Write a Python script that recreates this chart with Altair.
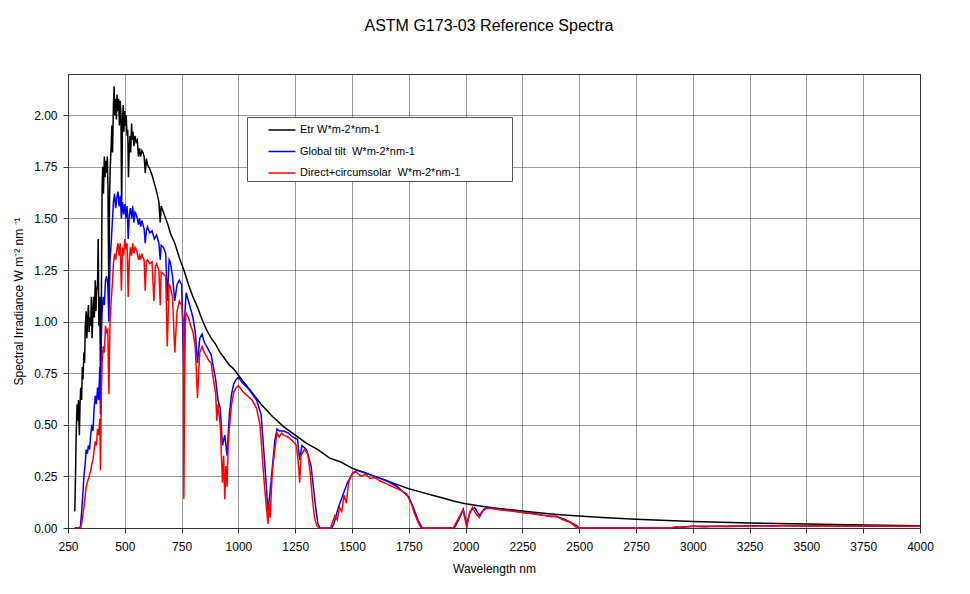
import altair as alt
import pandas as pd

# ---- data ----
etr_nm = [280, 283, 286, 290, 293, 296, 300, 303, 306, 310, 313, 316, 320, 323, 326, 330, 333, 336,
          340, 343, 346, 350, 353, 356, 360, 363, 366, 370, 373, 376, 380, 383, 386, 390, 393, 396,
          400, 403, 406, 410, 413, 416, 420, 423, 426, 430, 433, 436, 440, 443, 446, 450, 453, 456,
          460, 463, 466, 470, 473, 476, 480, 483, 486, 490, 493, 496, 500, 503, 506, 510, 513, 516,
          520, 523, 526, 530, 533, 536, 540, 545, 550, 555, 560, 565, 570, 575, 580, 585, 590, 595,
          600, 610, 620, 630, 640, 650, 656, 660, 670, 680, 690, 700, 720, 740, 760, 780, 800, 820,
          840, 860, 880, 900, 920, 940, 960, 980, 1000, 1050, 1100, 1150, 1200, 1250, 1300,
          1350, 1400, 1450, 1500, 1550, 1600, 1650, 1700, 1750, 1800, 1850, 1900, 1950, 2000, 2100,
          2200, 2300, 2400, 2500, 2600, 2750, 3000, 3250, 3500, 3750, 4000]
etr_val = [0.08, 0.25, 0.45, 0.60, 0.52, 0.62, 0.45, 0.60, 0.68, 0.62, 0.78, 0.72, 0.85, 0.80, 0.98,
           1.05, 0.92, 1.00, 1.08, 0.95, 1.02, 0.98, 1.12, 0.92, 1.05, 1.12, 1.02, 1.20, 1.05, 1.15,
           1.18, 1.40, 0.98, 1.12, 0.70, 0.95, 1.65, 1.75, 1.62, 1.80, 1.70, 1.78, 1.72, 1.80, 1.65,
           1.10, 1.60, 1.75, 1.85, 1.95, 1.82, 2.05, 2.14, 2.00, 2.08, 1.98, 2.10, 2.02, 2.08, 1.95,
           2.07, 2.00, 1.55, 1.98, 2.05, 1.92, 2.02, 1.95, 2.00, 1.90, 1.93, 1.70, 1.85, 1.90, 1.82,
           1.96, 1.88, 1.92, 1.85, 1.90, 1.87, 1.88, 1.80, 1.84, 1.80, 1.83, 1.82, 1.80, 1.72, 1.79,
           1.76, 1.74, 1.71, 1.67, 1.63, 1.58, 1.48, 1.56, 1.53, 1.50, 1.47, 1.43, 1.38, 1.31, 1.25,
           1.18, 1.12, 1.07, 1.01, 0.96, 0.92, 0.89, 0.85, 0.82, 0.79, 0.77, 0.74, 0.67, 0.60,
           0.54, 0.49, 0.45, 0.41, 0.38, 0.34, 0.32, 0.29, 0.27, 0.25, 0.23, 0.21, 0.19, 0.175, 0.16,
           0.145, 0.13, 0.118, 0.10, 0.088, 0.076, 0.066, 0.058, 0.051, 0.043, 0.032, 0.024, 0.019,
           0.015, 0.011]

glob_nm = [280, 300, 305, 310, 315, 320, 325, 330, 335, 340, 345, 350, 355, 360, 365, 370, 375, 380,
           385, 390, 393, 396, 400, 405, 410, 415, 420, 425, 430, 435, 440, 445, 450, 455, 460, 465,
           470, 475, 480, 485, 490, 495, 500, 505, 510, 515, 520, 525, 530, 535, 540, 545, 550, 555,
           560, 565, 570, 575, 580, 585, 590, 595, 600, 610, 620, 630, 640, 650, 656, 660, 670, 680,
           687, 695, 700, 710, 720, 730, 740, 750, 760, 765, 770, 780, 790, 800, 810, 820, 830, 840,
           850, 860, 870, 880, 890, 900, 910, 920, 930, 940, 950, 960, 970, 980, 990, 1000, 1020,
           1040, 1060, 1080, 1100, 1110, 1120, 1130, 1140, 1150, 1160, 1170, 1180, 1200, 1220, 1240,
           1260, 1270, 1280, 1300, 1320, 1340, 1350, 1360, 1410, 1420, 1440, 1460, 1480, 1500, 1520,
           1550, 1600, 1650, 1700, 1720, 1750, 1770, 1790, 1810, 1950, 1970, 1990, 2005, 2020, 2040,
           2060, 2080, 2100, 2150, 2200, 2250, 2300, 2350, 2400, 2430, 2460, 2490, 2500, 2900, 2950,
           3000, 3100, 3200, 3300, 3400, 3500, 3600, 3700, 3800, 3900, 4000]
glob_val = [0.0, 0.0, 0.01, 0.08, 0.16, 0.25, 0.30, 0.38, 0.36, 0.40, 0.38, 0.45, 0.50, 0.47, 0.58,
            0.64, 0.60, 0.68, 0.62, 0.78, 0.55, 0.88, 1.05, 1.12, 1.08, 1.20, 1.22, 1.18, 1.00, 1.30,
            1.38, 1.48, 1.58, 1.62, 1.55, 1.60, 1.63, 1.56, 1.61, 1.50, 1.58, 1.52, 1.57, 1.50, 1.56,
            1.40, 1.52, 1.55, 1.50, 1.56, 1.48, 1.53, 1.52, 1.50, 1.47, 1.50, 1.46, 1.49, 1.47, 1.45,
            1.38, 1.44, 1.46, 1.43, 1.44, 1.40, 1.42, 1.38, 1.30, 1.37, 1.36, 1.33, 1.10, 1.30, 1.29,
            1.22, 1.10, 1.18, 1.20, 1.18, 0.75, 1.05, 1.14, 1.10, 1.06, 1.02, 0.95, 0.80, 0.92, 0.94,
            0.90, 0.88, 0.86, 0.84, 0.78, 0.72, 0.62, 0.58, 0.40, 0.45, 0.35, 0.55, 0.65, 0.70, 0.72,
            0.73, 0.70, 0.68, 0.65, 0.62, 0.55, 0.40, 0.25, 0.08, 0.18, 0.30, 0.42, 0.48, 0.47, 0.47,
            0.46, 0.44, 0.43, 0.33, 0.40, 0.38, 0.30, 0.10, 0.02, 0.0, 0.0, 0.02, 0.10, 0.16, 0.22,
            0.26, 0.28, 0.27, 0.25, 0.23, 0.20, 0.18, 0.15, 0.10, 0.04, 0.0, 0.0, 0.04, 0.09, 0.02,
            0.08, 0.10, 0.06, 0.09, 0.10, 0.09, 0.085, 0.075, 0.07, 0.06, 0.055, 0.045, 0.03, 0.01,
            0.0, 0.0, 0.005, 0.008, 0.009, 0.010, 0.011, 0.011, 0.010, 0.011, 0.010, 0.009, 0.009, 0.009]

dir_nm = [280, 305, 310, 315, 320, 325, 330, 335, 340, 345, 350, 355, 360, 365, 370, 375, 380, 385,
          390, 393, 396, 400, 405, 410, 415, 420, 425, 430, 435, 440, 445, 450, 455, 460, 465, 470,
          475, 480, 485, 490, 495, 500, 505, 510, 515, 520, 525, 530, 535, 540, 545, 550, 555, 560,
          565, 570, 575, 580, 585, 590, 595, 600, 610, 620, 628, 635, 640, 650, 656, 660, 670, 680,
          687, 695, 700, 710, 720, 730, 740, 750, 758, 760, 763, 766, 770, 780, 790, 800, 810, 820,
          825, 830, 840, 850, 860, 870, 880, 890, 900, 905, 910, 920, 930, 935, 940, 945, 950, 955,
          960, 970, 980, 990, 1000, 1020, 1040, 1060, 1080, 1095, 1105, 1115, 1125, 1130, 1135,
          1140, 1145, 1150, 1160, 1170, 1180, 1190, 1200, 1220, 1240, 1255, 1265, 1270, 1275, 1290,
          1305, 1315, 1325, 1335, 1345, 1355, 1405, 1415, 1425, 1435, 1445, 1455, 1465, 1475, 1485,
          1495, 1505, 1520, 1540, 1560, 1580, 1600, 1620, 1640, 1660, 1680, 1700, 1720, 1740, 1760,
          1775, 1790, 1805, 1945, 1960, 1975, 1988, 2000, 2005, 2015, 2030, 2045, 2060, 2075, 2090,
          2110, 2150, 2200, 2250, 2300, 2350, 2380, 2400, 2420, 2440, 2460, 2475, 2490, 2900, 2925,
          2950, 3000, 3050, 3100, 3150, 3200, 3250, 3300, 3350, 3400, 3500, 3600, 3700, 3800, 3900,
          4000]
dir_val = [0.0, 0.0, 0.02, 0.06, 0.10, 0.15, 0.20, 0.22, 0.24, 0.26, 0.28, 0.31, 0.33, 0.38, 0.42,
           0.40, 0.48, 0.45, 0.53, 0.28, 0.60, 0.80, 0.88, 0.85, 0.98, 0.95, 0.96, 0.65, 1.00, 1.10,
           1.18, 1.28, 1.33, 1.30, 1.35, 1.38, 1.32, 1.38, 1.15, 1.36, 1.32, 1.40, 1.35, 1.38, 1.12,
           1.30, 1.36, 1.32, 1.38, 1.33, 1.36, 1.35, 1.33, 1.30, 1.32, 1.30, 1.33, 1.31, 1.30, 1.15,
           1.29, 1.30, 1.28, 1.29, 1.10, 1.27, 1.28, 1.25, 1.08, 1.24, 1.23, 1.22, 0.88, 1.18, 1.17,
           1.12, 0.85, 1.05, 1.10, 1.08, 1.00, 0.14, 0.65, 0.98, 1.04, 1.02, 0.98, 0.95, 0.88, 0.63,
           0.75, 0.85, 0.88, 0.85, 0.83, 0.81, 0.80, 0.72, 0.65, 0.52, 0.60, 0.50, 0.22, 0.35, 0.14,
           0.30, 0.20, 0.40, 0.48, 0.60, 0.66, 0.68, 0.69, 0.66, 0.64, 0.62, 0.58, 0.50, 0.35, 0.20,
           0.08, 0.02, 0.12, 0.05, 0.18, 0.28, 0.38, 0.46, 0.44, 0.46, 0.45, 0.44, 0.42, 0.40, 0.30,
           0.22, 0.35, 0.38, 0.36, 0.28, 0.15, 0.05, 0.01, 0.0, 0.0, 0.03, 0.06, 0.04, 0.10, 0.08,
           0.16, 0.12, 0.22, 0.25, 0.27, 0.27, 0.25, 0.26, 0.24, 0.245, 0.23, 0.22, 0.21, 0.20, 0.19,
           0.18, 0.165, 0.12, 0.07, 0.03, 0.0, 0.0, 0.03, 0.06, 0.09, 0.03, 0.0, 0.06, 0.10, 0.07,
           0.05, 0.08, 0.095, 0.095, 0.088, 0.082, 0.075, 0.068, 0.06, 0.055, 0.058, 0.045, 0.035,
           0.028, 0.015, 0.0, 0.0, 0.006, 0.003, 0.008, 0.005, 0.009, 0.006, 0.010, 0.007, 0.011,
           0.008, 0.012, 0.010, 0.011, 0.009, 0.010, 0.009, 0.009]

# legend texts (double spaces kept visible with a no-break space)
series_names = ["Etr W*m-2*nm-1",
                "Global tilt\u00a0 W*m-2*nm-1",
                "Direct+circumsolar\u00a0 W*m-2*nm-1"]
series_colors = ["#000000", "#0000FF", "#FF0000"]
x_ticks = list(range(250, 4001, 250))
y_ticks = [0.0, 0.25, 0.5, 0.75, 1.0, 1.25, 1.5, 1.75, 2.0]

FONT = "Liberation Sans"

frames = [
    pd.DataFrame({"nm": etr_nm, "val": etr_val, "series": series_names[0]}),
    pd.DataFrame({"nm": glob_nm, "val": glob_val, "series": series_names[1]}),
    pd.DataFrame({"nm": dir_nm, "val": dir_val, "series": series_names[2]}),
]

common_axis = dict(labelFontSize=12, titleFontSize=12, titleFontWeight="normal",
                   labelFont=FONT, titleFont=FONT, labelColor="#000", titleColor="#000",
                   tickSize=5, tickColor="#333", domainColor="#333",
                   labelFlush=False, labelOverlap=False,
                   grid=True, gridColor="#333", gridDash=[1, 1], gridOpacity=1)

x_enc = alt.X("nm:Q", scale=alt.Scale(domain=[250, 4000], nice=False, zero=False),
              axis=alt.Axis(values=x_ticks, format="d", title="Wavelength nm",
                            labelPadding=8, titlePadding=11, **common_axis))
y_enc = alt.Y("val:Q", scale=alt.Scale(domain=[0, 2.2], nice=False),
              axis=alt.Axis(values=y_ticks, format=".2f",
                            title="Spectral Irradiance  W m\u207b\u00b2 nm \u207b\u00b9",
                            labelPadding=6, titlePadding=8, **common_axis))

legend = alt.Legend(title=None, orient="none", legendX=179, legendY=43,
                    padding=3, strokeColor="#555", fillColor="white",
                    symbolType="M-1.5,0H1.5", symbolSize=324, symbolStrokeWidth=1.5,
                    symbolOffset=22, labelOffset=8, rowPadding=6.5,
                    labelFontSize=11, labelFont=FONT, labelColor="#000",
                    labelExpr="datum.label + '\u2800\u2800\u2800\u2800\u2800\u2800'",
                    labelLimit=400)
color_scale = alt.Scale(domain=series_names, range=series_colors)

layers = []
for i, df in enumerate(frames):
    layers.append(
        alt.Chart(df).mark_line(strokeWidth=1.5).encode(
            x=x_enc, y=y_enc,
            color=alt.Color("series:N", scale=color_scale, legend=legend if i == 0 else None),
        )
    )

chart = alt.layer(*layers).properties(
    width=852, height=454,
    title=alt.TitleParams("ASTM G173-03 Reference Spectra", fontSize=16, fontWeight="normal",
                          font="Liberation Sans Narrow, Arial Narrow, Liberation Sans",
                          color="#000", offset=40, anchor="middle", dx=-5),
    padding={"left": 60, "top": 66, "right": 30, "bottom": 56},
    autosize="none",
).configure_view(stroke="#333", strokeWidth=1)

chart.save("out.html", embed_options={"renderer": "svg", "actions": False})
